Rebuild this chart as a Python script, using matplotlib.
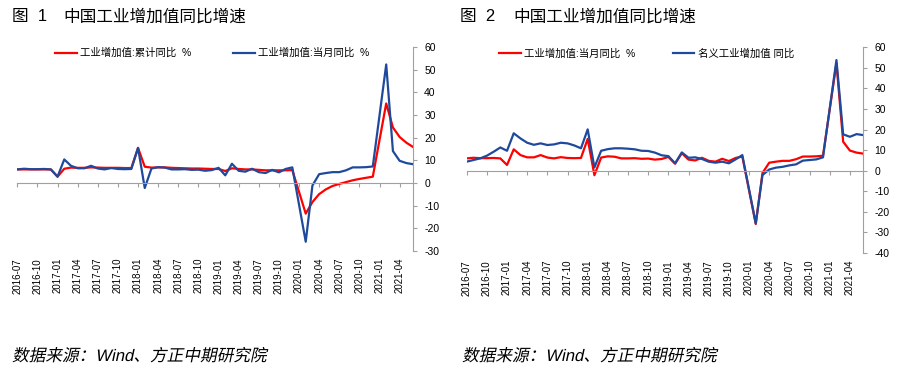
import matplotlib
matplotlib.use("Agg")
import matplotlib.pyplot as plt
import numpy as np
import pandas as pd
from matplotlib.textpath import TextPath
from matplotlib.patches import PathPatch
from matplotlib.font_manager import FontProperties
from matplotlib.transforms import Affine2D

plt.rcParams["font.family"] = ["Liberation Sans", "Noto Sans CJK SC"]
plt.rcParams["axes.unicode_minus"] = False

# monthly categories 2016-07 .. 2021-06
months = list(pd.period_range("2016-07", "2021-06", freq="M").strftime("%Y-%m"))

# 工业增加值:当月同比 (%)
monthly_yoy = [
    6.0, 6.3, 6.1, 6.1, 6.2, 6.0,
    2.8, 10.4, 7.6, 6.5, 6.5, 7.6, 6.4, 6.0, 6.6, 6.2, 6.1, 6.2,
    15.5, -2.2, 6.4, 7.0, 6.8, 6.0, 6.0, 6.1, 5.8, 5.9, 5.4, 5.7,
    6.7, 3.4, 8.5, 5.4, 5.0, 6.3, 4.8, 4.4, 5.8, 4.7, 6.2, 6.9,
    None, -25.9, -1.1, 3.9, 4.4, 4.8, 4.8, 5.6, 6.9, 6.9, 7.0, 7.3,
    None, 52.3, 14.1, 9.8, 8.8, 8.3,
]
# 工业增加值:累计同比 (%)
cumulative_yoy = [
    6.0, 6.0, 6.0, 6.0, 6.0, 6.0,
    2.8, 6.3, 6.8, 6.7, 6.7, 6.9, 6.8, 6.7, 6.7, 6.7, 6.6, 6.6,
    15.5, 7.2, 6.8, 6.9, 6.9, 6.7, 6.6, 6.5, 6.4, 6.4, 6.3, 6.2,
    6.2, 5.3, 6.5, 6.2, 6.0, 6.0, 5.8, 5.6, 5.6, 5.6, 5.6, 5.7,
    None, -13.5, -8.4, -4.9, -2.8, -1.3, -0.4, 0.4, 1.2, 1.8, 2.3, 2.8,
    None, 35.1, 24.5, 20.3, 17.8, 15.9,
]
# 名义工业增加值 同比
nominal_yoy = [
    4.4, 5.2, 6.0, 7.3, 9.2, 11.3,
    9.7, 18.2, 15.7, 13.6, 12.6, 13.3, 12.5, 12.8, 13.6, 13.3, 12.3, 10.9,
    20.1, 1.6, 9.7, 10.5, 10.9, 10.9, 10.7, 10.4, 9.7, 9.6, 8.8, 7.5,
    7.1, 3.6, 8.9, 6.3, 6.5, 5.7, 4.4, 3.9, 4.4, 3.6, 5.5, 7.6,
    None, -25.6, -2.1, 0.6, 1.5, 1.9, 2.6, 3.1, 4.9, 5.2, 5.5, 6.5,
    None, 53.8, 17.7, 16.5, 17.8, 17.3,
]

RED = "#FF0000"
BLUE = "#1F4A9C"
GRAY = "#A0A0A0"

tick_pos = list(range(0, len(months), 3))
tick_labels = [months[i] for i in tick_pos]


def draw_line(ax, values, color, label):
    y = np.array([np.nan if v is None else v for v in values], dtype=float)
    x = np.arange(len(y))
    ok = ~np.isnan(y)  # empty cells are bridged, like the source chart
    ax.plot(x[ok], y[ok], color=color, lw=1.6, label=label, solid_joinstyle="round")


def style_axes(ax, ymin, ymax, legend_x, colsp):
    ax.set_xlim(0, len(months) - 1)
    ax.set_ylim(ymin, ymax)
    ax.set_yticks(range(ymin, ymax + 1, 10))
    for s in ["top", "left"]:
        ax.spines[s].set_visible(False)
    ax.spines["right"].set_color(GRAY)
    ax.spines["bottom"].set_color(GRAY)
    ax.spines["bottom"].set_position(("data", 0))
    ax.yaxis.tick_right()
    ax.tick_params(axis="y", direction="out", length=3, color=GRAY, labelsize=7.5, pad=5)
    ax.set_xticks(tick_pos)
    ax.tick_params(axis="x", direction="out", length=3, color=GRAY, labelbottom=False)

    sec = ax.secondary_xaxis("bottom")
    sec.set_xticks(tick_pos, tick_labels, rotation=90)
    sec.tick_params(length=0, pad=5, labelsize=7)
    sec.spines["bottom"].set_visible(False)

    ax.legend(ncol=2, loc="center left", bbox_to_anchor=(legend_x, 0.97),
              frameon=False, fontsize=7.5, handlelength=2.1, handletextpad=0.3,
              columnspacing=colsp, borderpad=0, borderaxespad=0)


def slanted_text(fig, x_px, y_px, s, size=12):
    # CJK fonts have no italic face, so shear the glyph outlines instead
    fp = FontProperties(family=["Liberation Sans", "Noto Sans CJK SC"], size=size)
    path = TextPath((0, 0), s, prop=fp)
    tr = (Affine2D().skew_deg(12, 0).scale(1 / 72.0)
          .translate(x_px / fig.dpi, (373 - y_px) / fig.dpi)) + fig.dpi_scale_trans
    fig.patches.append(PathPatch(path, transform=tr, facecolor="black", lw=0, figure=fig))


fig = plt.figure(figsize=(9.06, 3.73), dpi=100)

ax1 = fig.add_axes([0.0191, 0.327, 0.4368, 0.547])
draw_line(ax1, cumulative_yoy, RED, "工业增加值:累计同比  %")
draw_line(ax1, monthly_yoy, BLUE, "工业增加值:当月同比  %")
style_axes(ax1, -30, 60, 0.095, 4.0)

ax2 = fig.add_axes([0.5151, 0.3217, 0.4378, 0.5515])
draw_line(ax2, monthly_yoy, RED, "工业增加值:当月同比  %")
draw_line(ax2, nominal_yoy, BLUE, "名义工业增加值 同比")
style_axes(ax2, -40, 60, 0.081, 3.6)

# titles
fig.text(12 / 906, 1 - 17 / 373, "图  1", fontsize=12, va="center")
fig.text(63 / 906, 1 - 17 / 373, "中国工业增加值同比增速", fontsize=12, va="center")
fig.text(460 / 906, 1 - 17 / 373, "图  2", fontsize=12, va="center")
fig.text(513 / 906, 1 - 17 / 373, "中国工业增加值同比增速", fontsize=12, va="center")

# sources (baseline ~ y=361 px)
slanted_text(fig, 12, 361, "数据来源：Wind、方正中期研究院")
slanted_text(fig, 462, 361, "数据来源：Wind、方正中期研究院")

fig.savefig("out.png", dpi=100)
